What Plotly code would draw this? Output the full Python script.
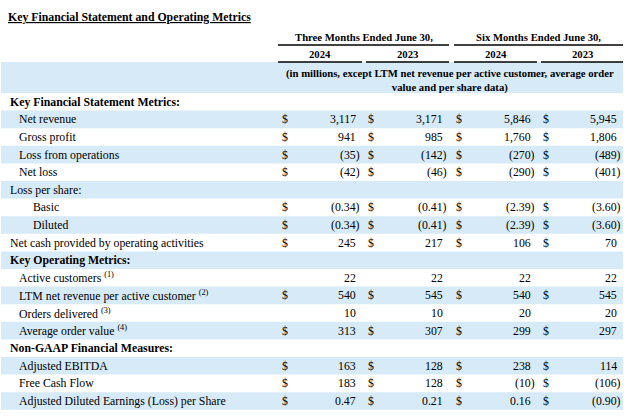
import plotly.graph_objects as go

title = "Key Financial Statement and Operating Metrics"
period_headers = ["Three Months Ended June 30,", "Six Months Ended June 30,"]
years = ["2024", "2023", "2024", "2023"]
units_note = "(in millions, except LTM net revenue per active customer, average order<br>value and per share data)"

labels = [
    "Key Financial Statement Metrics:",
    "Net revenue",
    "Gross profit",
    "Loss from operations",
    "Net loss",
    "Loss per share:",
    "Basic",
    "Diluted",
    "Net cash provided by operating activities",
    "Key Operating Metrics:",
    "Active customers <sup>(1)</sup>",
    "LTM net revenue per active customer <sup>(2)</sup>",
    "Orders delivered <sup>(3)</sup>",
    "Average order value <sup>(4)</sup>",
    "Non-GAAP Financial Measures:",
    "Adjusted EBITDA",
    "Free Cash Flow",
    "Adjusted Diluted Earnings (Loss) per Share",
]
indent = [0, 1, 1, 1, 1, 0, 2, 2, 0, 0, 1, 1, 1, 1, 0, 1, 1, 1]
bold = [True, False, False, False, False, False, False, False, False, True,
        False, False, False, False, True, False, False, False]
has_dollar = [False, True, True, True, True, False, True, True, True, False,
              False, True, False, True, False, True, True, True]
decimals = [0, 0, 0, 0, 0, 0, 2, 2, 0, 0, 0, 0, 0, 0, 0, 0, 0, 2]

q_2024 = [None, 3117, 941, -35, -42, None, -0.34, -0.34, 245, None, 22, 540, 10, 313, None, 163, 183, 0.47]
q_2023 = [None, 3171, 985, -142, -46, None, -0.41, -0.41, 217, None, 22, 545, 10, 307, None, 128, 128, 0.21]
h_2024 = [None, 5846, 1760, -270, -290, None, -2.39, -2.39, 106, None, 22, 540, 20, 299, None, 238, -10, 0.16]
h_2023 = [None, 5945, 1806, -489, -401, None, -3.60, -3.60, 70, None, 22, 545, 20, 297, None, 114, -106, -0.90]
columns = [q_2024, q_2023, h_2024, h_2023]

# layout geometry (pixels)
FONT = "Liberation Serif, Times New Roman, serif"
BLUE = "#d6eaf8"
row_top = 93.0
row_h = 17.6
col_segments = [(278, 362), (366, 449), (454, 537), (541, 623)]
dollar_x = [285, 371, 459, 546]
num_right = [358, 445, 533, 619]
paren_shift = 4
indent_x = [8, 17, 31]


def fmt(v, d):
    s = f"{abs(v):,.{d}f}"
    return f"({s})" if v < 0 else s


shapes = []
annotations = []

# header blue band
shapes.append(dict(type="rect", x0=1, x1=623, y0=62, y1=row_top, fillcolor=BLUE, line_width=0, layer="below"))
# row bands
for i in range(len(labels)):
    if i % 2 == 1:
        shapes.append(dict(type="rect", x0=1, x1=623, y0=row_top + i * row_h, y1=row_top + (i + 1) * row_h,
                           fillcolor=BLUE, line_width=0, layer="below"))
# header lines
for (a, b) in [(278, 449), (454, 623)]:
    shapes.append(dict(type="line", x0=a, x1=b, y0=45, y1=45, line=dict(color="black", width=1.5)))
for (a, b) in col_segments:
    shapes.append(dict(type="line", x0=a, x1=b, y0=62, y1=62, line=dict(color="black", width=1.5)))

base_font = dict(family=FONT, size=11.8, color="black")
head_font = dict(family=FONT, size=10.7, color="black")

annotations.append(dict(x=6, y=17, text=f"<b><u>{title}</u></b>", xanchor="left", yanchor="middle",
                        showarrow=False, font=dict(family=FONT, size=11.8, color="black")))
for (a, b), txt in zip([(278, 449), (454, 623)], period_headers):
    annotations.append(dict(x=(a + b) / 2, y=37, text=f"<b>{txt}</b>", xanchor="center", yanchor="middle",
                            showarrow=False, font=head_font))
for (a, b), yr in zip(col_segments, years):
    annotations.append(dict(x=(a + b) / 2, y=54, text=f"<b>{yr}</b>", xanchor="center", yanchor="middle",
                            showarrow=False, font=head_font))
annotations.append(dict(x=450, y=80.5, text=f"<b>{units_note}</b>", xanchor="center", yanchor="middle",
                        showarrow=False, font=head_font))

for i, lab in enumerate(labels):
    yc = row_top + (i + 0.5) * row_h
    txt = f"<b>{lab}</b>" if bold[i] else lab
    annotations.append(dict(x=indent_x[indent[i]], y=yc, text=txt, xanchor="left", yanchor="middle",
                            showarrow=False, font=base_font))
    for c, col in enumerate(columns):
        v = col[i]
        if v is None:
            continue
        if has_dollar[i]:
            annotations.append(dict(x=dollar_x[c], y=yc, text="$", xanchor="center", yanchor="middle",
                                    showarrow=False, font=base_font))
        xr = num_right[c] + (paren_shift if v < 0 else 0)
        annotations.append(dict(x=xr, y=yc, text=fmt(v, decimals[i]), xanchor="right", yanchor="middle",
                                showarrow=False, font=base_font))

fig = go.Figure()
fig.add_trace(go.Scatter(x=[0, 640], y=[0, 416], mode="markers", marker=dict(opacity=0), hoverinfo="skip",
                         showlegend=False))
fig.update_layout(
    width=640, height=416,
    margin=dict(l=0, r=0, t=0, b=0),
    paper_bgcolor="white", plot_bgcolor="white",
    xaxis=dict(range=[0, 640], visible=False, fixedrange=True),
    yaxis=dict(range=[416, 0], visible=False, fixedrange=True),
    shapes=shapes,
    annotations=annotations,
    showlegend=False,
)
fig.write_html("out.html", config={"displayModeBar": False},
               post_script="document.body.style.margin='0px';document.body.style.overflow='hidden';")
